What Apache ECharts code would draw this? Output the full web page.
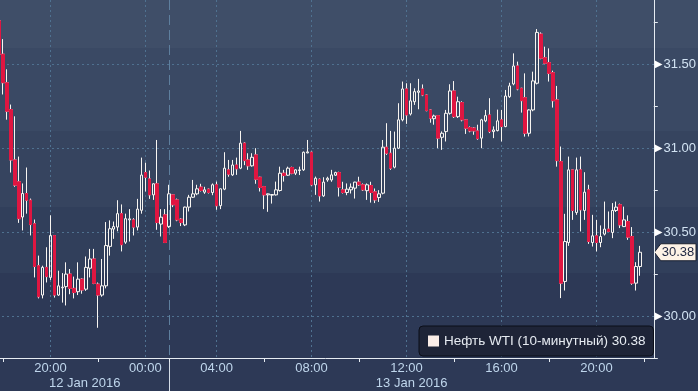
<!DOCTYPE html>
<html><head><meta charset="utf-8">
<script src="https://cdn.jsdelivr.net/npm/echarts@6/dist/echarts.min.js"></script>
<style>html,body{margin:0;padding:0;background:#2d3956;overflow:hidden;width:698px;height:391px;position:relative;}
#c{position:absolute;left:-3px;top:0;width:701px;height:391px;}</style>
</head><body><div id="c"></div>
<script>
// ---- categories (10-minute bars, Moscow time; 01:00-01:50 session break) ----
const times = [
'12 17:50',
'12 18:00','12 18:10','12 18:20','12 18:30','12 18:40','12 18:50',
'12 19:00','12 19:10','12 19:20','12 19:30','12 19:40','12 19:50',
'12 20:00','12 20:10','12 20:20','12 20:30','12 20:40','12 20:50',
'12 21:00','12 21:10','12 21:20','12 21:30','12 21:40','12 21:50',
'12 22:00','12 22:10','12 22:20','12 22:30','12 22:40','12 22:50',
'12 23:00','12 23:10','12 23:20','12 23:30','12 23:40','12 23:50',
'13 00:00','13 00:10','13 00:20','13 00:30','13 00:40','13 00:50',
'13 02:00','13 02:10','13 02:20','13 02:30','13 02:40','13 02:50',
'13 03:00','13 03:10','13 03:20','13 03:30','13 03:40','13 03:50',
'13 04:00','13 04:10','13 04:20','13 04:30','13 04:40','13 04:50',
'13 05:00','13 05:10','13 05:20','13 05:30','13 05:40','13 05:50',
'13 06:00','13 06:10','13 06:20','13 06:30','13 06:40','13 06:50',
'13 07:00','13 07:10','13 07:20','13 07:30','13 07:40','13 07:50',
'13 08:00','13 08:10','13 08:20','13 08:30','13 08:40','13 08:50',
'13 09:00','13 09:10','13 09:20','13 09:30','13 09:40','13 09:50',
'13 10:00','13 10:10','13 10:20','13 10:30','13 10:40','13 10:50',
'13 11:00','13 11:10','13 11:20','13 11:30','13 11:40','13 11:50',
'13 12:00','13 12:10','13 12:20','13 12:30','13 12:40','13 12:50',
'13 13:00','13 13:10','13 13:20','13 13:30','13 13:40','13 13:50',
'13 14:00','13 14:10','13 14:20','13 14:30','13 14:40','13 14:50',
'13 15:00','13 15:10','13 15:20','13 15:30','13 15:40','13 15:50',
'13 16:00','13 16:10','13 16:20','13 16:30','13 16:40','13 16:50',
'13 17:00','13 17:10','13 17:20','13 17:30','13 17:40','13 17:50',
'13 18:00','13 18:10','13 18:20','13 18:30','13 18:40','13 18:50',
'13 19:00','13 19:10','13 19:20','13 19:30','13 19:40','13 19:50',
'13 20:00','13 20:10','13 20:20','13 20:30','13 20:40','13 20:50',
'13 21:00','13 21:10','13 21:20','13 21:30','13 21:40','13 21:50',
'13 22:00','13 22:10','13 22:20'
];
const sessionStart = '13 02:00';
const dayLabels = ['12 Jan 2016', '13 Jan 2016'];
const seriesName = 'Нефть WTI (10-минутный)';

// ---- OHLC values ----
const opens = [
31.76,31.56,31.39,31.23,30.93,30.80,30.59,30.73,30.69,30.55,
30.30,30.125,30.29,30.23,30.48,30.125,30.168,30.175,30.25,30.165,
30.145,30.22,30.16,30.285,30.34,30.19,30.125,30.18,30.415,30.518,
30.53,30.61,30.44,30.573,30.573,30.53,30.63,30.855,30.817,30.722,
30.788,30.548,30.603,30.533,30.722,30.692,30.577,30.543,30.649,30.708,
30.728,30.768,30.738,30.756,30.736,30.782,30.658,30.756,30.871,30.841,
30.900,30.881,31.030,30.930,30.895,30.960,30.827,30.771,30.722,30.72,
30.722,30.748,30.851,30.839,30.885,30.851,30.867,30.871,30.972,30.976,
30.782,30.815,30.716,30.811,30.811,30.839,30.855,30.752,30.736,30.752,
30.762,30.798,30.782,30.747,30.778,30.740,30.706,30.732,31.006,30.970,
30.887,31.0,31.169,31.353,31.204,31.277,31.333,31.353,31.317,31.228,
31.176,31.194,31.065,31.099,31.208,31.341,31.188,31.272,31.169,31.123,
31.12,31.103,31.060,31.163,31.198,31.099,31.105,31.169,31.129,31.307,
31.383,31.490,31.357,31.301,31.089,31.228,31.387,31.680,31.539,31.510,
31.450,31.288,30.920,30.206,30.438,30.871,30.617,30.871,30.629,30.752,
30.438,30.478,30.438,30.488,30.518,30.498,30.629,30.663,30.533,30.563,
30.474,30.196,30.295];
const closes = [
31.56,31.39,31.22,30.93,30.78,30.58,30.73,30.69,30.545,30.295,
30.115,30.29,30.235,30.48,30.125,30.18,30.172,30.25,30.165,30.14,
30.22,30.155,30.29,30.34,30.195,30.125,30.18,30.42,30.52,30.533,
30.61,30.425,30.58,30.579,30.53,30.637,30.84,30.827,30.722,30.788,
30.557,30.589,30.438,30.728,30.663,30.573,30.557,30.649,30.708,30.728,
30.758,30.748,30.752,30.736,30.782,30.657,30.758,30.881,30.845,30.900,
30.877,31.030,30.926,30.895,30.946,30.815,30.766,30.722,30.728,30.724,
30.752,30.851,30.837,30.881,30.851,30.871,30.871,30.976,30.978,30.782,
30.821,30.716,30.798,30.821,30.841,30.855,30.768,30.736,30.756,30.768,
30.798,30.782,30.752,30.782,30.736,30.692,30.728,31.006,30.970,30.881,
31.0,31.169,31.353,31.198,31.282,31.337,31.341,31.317,31.224,31.179,
31.192,31.060,31.089,31.208,31.341,31.188,31.277,31.169,31.119,31.103,
31.103,31.057,31.169,31.194,31.099,31.109,31.163,31.129,31.311,31.371,
31.490,31.353,31.283,31.089,31.228,31.401,31.690,31.536,31.506,31.446,
31.283,30.926,30.196,30.444,30.871,30.629,30.871,30.633,30.738,30.444,
30.478,30.438,30.474,30.518,30.504,30.629,30.649,30.543,30.573,30.470,
30.196,30.295,30.38];
const lows = [
31.55,31.32,31.17,30.855,30.77,30.555,30.51,30.61,30.48,30.23,
30.105,30.105,30.20,30.215,30.11,30.12,30.08,30.063,30.13,30.105,
30.125,30.133,30.15,30.23,30.19,29.93,30.115,30.165,30.36,30.46,
30.505,30.385,30.43,30.444,30.48,30.51,30.61,30.742,30.698,30.692,
30.514,30.474,30.435,30.525,30.649,30.565,30.536,30.536,30.623,30.704,
30.72,30.742,30.728,30.73,30.72,30.633,30.637,30.75,30.83,30.835,
30.841,30.875,30.899,30.871,30.89,30.788,30.742,30.637,30.621,30.67,
30.718,30.742,30.801,30.835,30.845,30.84,30.84,30.865,30.97,30.775,
30.722,30.682,30.71,30.80,30.80,30.835,30.712,30.73,30.72,30.73,
30.70,30.775,30.745,30.692,30.676,30.673,30.68,30.725,30.96,30.871,
30.88,30.995,31.16,31.145,31.195,31.258,31.232,31.31,31.22,31.152,
31.14,31.0,30.99,31.04,31.2,31.18,31.18,31.16,31.085,31.095,
31.08,31.05,31.0,31.155,31.09,31.06,31.10,31.04,31.125,31.30,
31.375,31.345,31.212,31.069,31.07,31.22,31.38,31.53,31.50,31.397,
31.242,30.890,30.107,30.152,30.418,30.573,30.603,30.504,30.573,30.430,
30.414,30.385,30.41,30.48,30.50,30.464,30.62,30.524,30.53,30.454,
30.186,30.152,30.240];
const highs = [
31.77,31.65,31.47,31.26,31.19,30.95,30.79,30.885,30.70,30.575,
30.36,30.30,30.41,30.60,30.48,30.27,30.256,30.32,30.28,30.235,
30.32,30.225,30.355,30.40,30.40,30.20,30.34,30.56,30.57,30.563,
30.69,30.665,30.61,30.637,30.583,30.698,30.944,30.914,30.867,30.79,
31.049,30.637,30.637,30.782,30.725,30.70,30.583,30.652,30.722,30.811,
30.782,30.788,30.770,30.76,30.79,30.801,30.76,30.976,30.93,30.93,
30.944,31.103,31.035,30.970,30.97,31.0,30.83,30.775,30.73,30.727,
30.801,30.890,30.871,30.89,30.89,30.875,30.89,30.98,31.049,30.98,
30.831,30.82,30.827,30.83,30.871,30.86,30.86,30.80,30.79,30.79,
30.80,30.83,30.79,30.79,30.80,30.76,30.75,31.049,31.149,31.103,
31.099,31.268,31.397,31.387,31.387,31.357,31.413,31.38,31.32,31.232,
31.20,31.197,31.10,31.228,31.381,31.40,31.307,31.28,31.172,31.13,
31.125,31.14,31.175,31.228,31.298,31.13,31.23,31.228,31.347,31.39,
31.565,31.516,31.36,31.446,31.232,31.456,31.710,31.69,31.605,31.595,
31.462,31.371,31.010,30.609,30.950,30.875,30.944,30.950,30.857,30.782,
30.603,30.573,30.54,30.682,30.623,30.673,30.682,30.67,30.652,30.60,
30.530,30.321,30.418];

// ---- build ----
const SHIFT = 3;               // chart canvas starts 3px left of the page
const W = 701, H = 391;
const RED = '#df1641';
const UPC = '#f8f5f1';
const GRIDC = '#4f7190';
const lastClose = closes[closes.length - 1];
const hourOf = t => +t.slice(-5, -3);
const isMajor = t => t.endsWith(':00') && hourOf(t) % 4 === 0;
const isMinor = t => t.endsWith(':00') && hourOf(t) % 4 === 2;

const ohlc = opens.map((o, i) => [o, closes[i], lows[i], highs[i]]);
const downBodies = opens.map((o, i) => closes[i] < o ? [o, closes[i], closes[i], o] : '-');

const bands = ['#3f4e68', '#3a4964', '#36445f', '#313f5b', '#2d3956'];
const cuts = [0, 48, 131, 207, 273, 391];
const stops = [];
bands.forEach((c, i) => { stops.push({offset: cuts[i] / H, color: c}); stops.push({offset: cuts[i + 1] / H, color: c}); });

const gridRight = 44.2, gridBottom = 33;
const chart = echarts.init(document.getElementById('c'), null, {renderer: 'canvas', width: W, height: H});
const option = {
  animation: false,
  backgroundColor: {type: 'linear', x: 0, y: 0, x2: 0, y2: 1, colorStops: stops},
  grid: {left: 0, right: gridRight, top: 0, bottom: gridBottom, outerBoundsMode: 'none', containLabel: false},
  legend: {
    left: 419 + SHIFT, top: 326, selectedMode: false,
    backgroundColor: '#1e2437', borderColor: '#0b0e18', borderWidth: 1, borderRadius: 4,
    padding: [8, 8, 8, 9], itemWidth: 11, itemHeight: 11,
    textStyle: {color: '#e6ebf1', fontSize: 13.5, fontFamily: 'Liberation Sans'},
    data: [{name: seriesName, icon: 'rect', itemStyle: {color: '#fbeee8', borderWidth: 0}}],
    formatter: n => n + ' ' + lastClose.toFixed(2)
  },
  xAxis: {
    type: 'category', data: times, boundaryGap: true,
    axisLine: {lineStyle: {color: '#e6ecf2', width: 1}},
    axisTick: {show: true, alignWithLabel: true, interval: (i, v) => isMinor(v), length: 4, lineStyle: {color: '#e6ecf2'}},
    axisLabel: {interval: (i, v) => isMajor(v), formatter: v => v.slice(-5), color: '#bfd6ec', fontSize: 13, fontFamily: 'Liberation Sans', margin: 4},
    splitLine: {show: true, alignWithLabel: true, interval: (i, v) => isMajor(v), lineStyle: {color: GRIDC, type: [2, 3], width: 1}}
  },
  yAxis: {
    type: 'value', position: 'right', min: 29.75, max: 31.883, interval: 0.25,
    axisLine: {show: true, lineStyle: {color: '#e6ecf2', width: 1}},
    axisTick: {show: true, length: 4, lineStyle: {color: '#e6ecf2'}},
    splitLine: {show: true, showMinLine: true, showMaxLine: false, lineStyle: {color: ['rgba(0,0,0,0)', GRIDC], type: [2, 3], width: 1}},
    axisLabel: {
      margin: 1, color: '#d2e3f3', fontSize: 13, fontFamily: 'Liberation Sans', showMaxLabel: false,
      formatter: v => (Math.round(v * 100) % 50 === 0) ? '{t|▶}' + v.toFixed(2) : '',
      rich: {t: {fontSize: 10, color: '#ffffff', fontFamily: 'DejaVu Sans', padding: [0, 1, 0, 0]}}
    }
  },
  series: [
    {
      name: seriesName, type: 'candlestick', data: ohlc, barWidth: 3, z: 2,
      itemStyle: {color: 'rgba(0,0,0,0)', color0: RED, borderColor: UPC, borderColor0: UPC, borderColorDoji: UPC, borderWidth: 1}
    },
    {
      name: 'down', type: 'candlestick', data: downBodies, barWidth: 3, z: 3,
      itemStyle: {color: RED, color0: RED, borderColor: RED, borderColor0: RED, borderWidth: 1}
    }
  ]
};
chart.setOption(option);

const xS = Math.round(chart.convertToPixel({xAxisIndex: 0}, sessionStart)) + 0.5;
const yT = chart.convertToPixel({yAxisIndex: 0}, lastClose);
const gR = W - gridRight, gB = H - gridBottom;
chart.setOption({graphic: [
  {type: 'line', z: 1, shape: {x1: xS, y1: 0, x2: xS, y2: gB}, style: {stroke: '#5e7f9e', lineWidth: 1, lineDash: [10, 5]}},
  {type: 'line', shape: {x1: xS, y1: gB, x2: xS, y2: H}, style: {stroke: '#d5dee8', lineWidth: 1}},
  {type: 'text', style: {text: dayLabels[0], x: (SHIFT + xS) / 2, y: 383, align: 'center', verticalAlign: 'middle', fill: '#bfd6ec', font: '13px "Liberation Sans"'}},
  {type: 'text', style: {text: dayLabels[1], x: (xS + gR) / 2, y: 383, align: 'center', verticalAlign: 'middle', fill: '#bfd6ec', font: '13px "Liberation Sans"'}},
  {type: 'polygon', shape: {points: [[gR + 0.5, yT], [gR + 7, yT - 8.5], [696 + SHIFT, yT - 8.5], [696 + SHIFT, yT + 8.5], [gR + 7, yT + 8.5]]}, style: {fill: '#fdf2e6', stroke: '#1a2030', lineWidth: 1}},
  {type: 'text', style: {text: lastClose.toFixed(2), x: 678 + SHIFT, y: yT + 0.5, align: 'center', verticalAlign: 'middle', fill: '#1c2440', font: '13px "Liberation Sans"'}}
]});
</script>
</body></html>
